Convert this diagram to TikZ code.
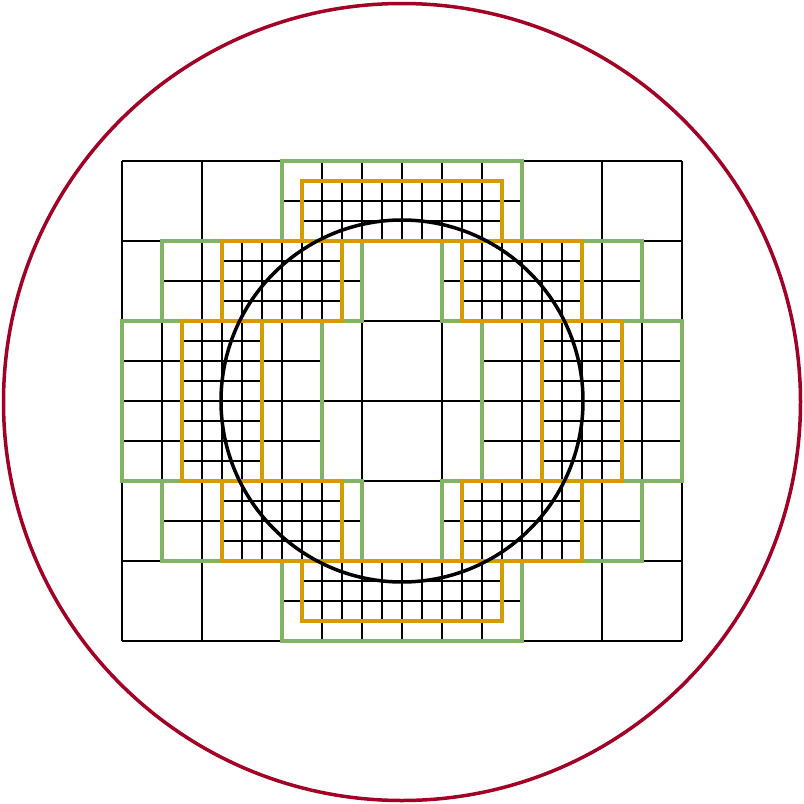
\documentclass[tikz,border=0pt]{standalone}
\definecolor{gridgreen}{HTML}{82B366}
\definecolor{gridorange}{HTML}{D79B00}
\definecolor{ringred}{HTML}{A20025}
\newcommand{\amrgrid}[6]{%
  \pgfmathtruncatemacro{\amrnx}{(#3-#1)/#5}%
  \pgfmathtruncatemacro{\amrny}{(#4-#2)/#5}%
  \foreach \amri in {0,...,\amrnx}{\draw[#6] ({#1+\amri*#5},#2) -- ({#1+\amri*#5},#4);}%
  \foreach \amrj in {0,...,\amrny}{\draw[#6] (#1,{#2+\amrj*#5}) -- (#3,{#2+\amrj*#5});}%
}
\begin{document}
\begin{tikzpicture}[x=1pt,y=-1pt,
  coarseline/.style={line width=2pt,black},
  midline/.style={line width=2.1pt,black},
  fineline/.style={line width=1.9pt,black},
  greenbox/.style={draw=gridgreen,line width=3.6pt},
  orangebox/.style={draw=gridorange,line width=3.6pt},
  bodycircle/.style={draw=black,line width=3.5pt},
  ringcircle/.style={draw=ringred,line width=3.5pt}]
\useasboundingbox (0,0) rectangle (804,804);
\fill[white] (0,0) rectangle (804,804);
% coarse level
\amrgrid{122}{161}{682}{641}{80}{coarseline}
% level 1 patches
\amrgrid{282}{161}{522}{241}{40}{midline}
\amrgrid{162}{241}{362}{321}{40}{midline}
\amrgrid{442}{241}{642}{321}{40}{midline}
\amrgrid{122}{321}{322}{481}{40}{midline}
\amrgrid{482}{321}{682}{481}{40}{midline}
\amrgrid{162}{481}{362}{561}{40}{midline}
\amrgrid{442}{481}{642}{561}{40}{midline}
\amrgrid{282}{561}{522}{641}{40}{midline}
% level 2 patches
\amrgrid{302}{181}{502}{241}{20}{fineline}
\amrgrid{222}{241}{342}{321}{20}{fineline}
\amrgrid{462}{241}{582}{321}{20}{fineline}
\amrgrid{182}{321}{262}{481}{20}{fineline}
\amrgrid{542}{321}{622}{481}{20}{fineline}
\amrgrid{222}{481}{342}{561}{20}{fineline}
\amrgrid{462}{481}{582}{561}{20}{fineline}
\amrgrid{302}{561}{502}{621}{20}{fineline}
% level 1 outlines
\draw[greenbox] (282,161) rectangle (522,241);
\draw[greenbox] (162,241) rectangle (362,321);
\draw[greenbox] (442,241) rectangle (642,321);
\draw[greenbox] (122,321) rectangle (322,481);
\draw[greenbox] (482,321) rectangle (682,481);
\draw[greenbox] (162,481) rectangle (362,561);
\draw[greenbox] (442,481) rectangle (642,561);
\draw[greenbox] (282,561) rectangle (522,641);
% level 2 outlines
\draw[orangebox] (302,181) rectangle (502,241);
\draw[orangebox] (222,241) rectangle (342,321);
\draw[orangebox] (462,241) rectangle (582,321);
\draw[orangebox] (182,321) rectangle (262,481);
\draw[orangebox] (542,321) rectangle (622,481);
\draw[orangebox] (222,481) rectangle (342,561);
\draw[orangebox] (462,481) rectangle (582,561);
\draw[orangebox] (302,561) rectangle (502,621);
% circles
\draw[bodycircle] (402,401) circle[radius=181pt];
\draw[ringcircle] (402,402) circle[radius=398.5pt];
\end{tikzpicture}
\end{document}
